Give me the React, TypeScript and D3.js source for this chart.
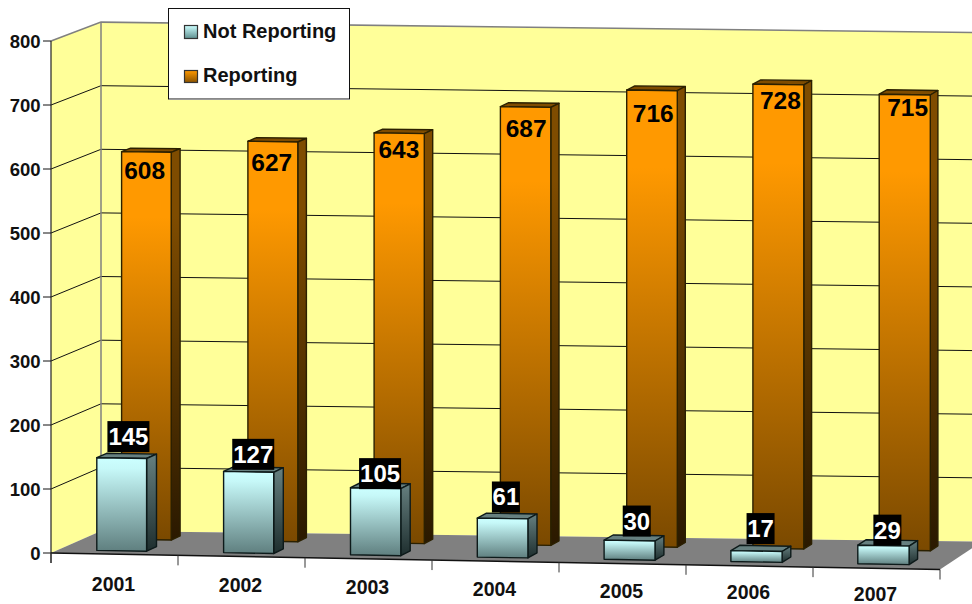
import React from "react";
import * as d3 from "d3";

const years = ["2001", "2002", "2003", "2004", "2005", "2006", "2007"];
const notReporting = [145, 127, 105, 61, 30, 17, 29];
const reporting = [608, 627, 643, 687, 716, 728, 715];
const yTicks = [0, 100, 200, 300, 400, 500, 600, 700, 800];

// layout-only label adjustments, as placed by hand in the reference
const reportingLabelDy = [-2, 1, -3, 2, 5, -2, -5];
const blackBoxDx = [2, 0, 0, -1, 3, 0, 0];
const blackBoxDy = [-4, 0, 3, -4, -2, -5, 2];

const uX = d3.scaleLinear().domain([0, 7]).range([51, 940]);
const uY = d3.scaleLinear().domain([0, 7]).range([553, 569.5]);
const depthDx = d3.scaleLinear().domain([0, 7]).range([50, 42]);
const depthDy = d3.scaleLinear().domain([0, 7]).range([22, 28]);
const hFront = d3.scaleLinear().domain([0, 800]).range([0, 512]);
const font = "'Liberation Sans', Arial, sans-serif";

function P(u: number, d: number, v: number): [number, number] {
  const x = uX(u) + depthDx(u) * d;
  const y = uY(u) - depthDy(u) * d - hFront(v) * (1 - 0.006 * d);
  return [x, y];
}
const pts = (a: [number, number][]) => a.map((p) => `${p[0].toFixed(1)},${p[1].toFixed(1)}`).join(" ");

function Bar({ i, v, d0, d1, front, side, top, line }: any) {
  const u0 = i + 0.302;
  const u1 = i + 0.695 + 0.002 * i;
  return (
    <g stroke={line} strokeWidth={1.4} strokeLinejoin="round">
      <polygon points={pts([P(u0, d0, v), P(u1, d0, v), P(u1, d1, v), P(u0, d1, v)])} fill={top} />
      <polygon points={pts([P(u1, d0, 0), P(u1, d0, v), P(u1, d1, v), P(u1, d1, 0)])} fill={`url(#${side})`} />
      <polygon points={pts([P(u0, d0, 0), P(u1, d0, 0), P(u1, d0, v), P(u0, d0, v)])} fill={`url(#${front})`} />
    </g>
  );
}

export default function App() {
  const wallYellow = "#FFFF99";
  return (
    <svg width={972} height={604} viewBox="0 0 972 604" style={{ position: "absolute", left: 0, top: 0, display: "block", background: "#fff" }}>
      <defs>
        <linearGradient id="rf" x1="0" y1="0" x2="0" y2="1">
          <stop offset="0" stopColor="#FF9900" />
          <stop offset="0.17" stopColor="#FF9900" />
          <stop offset="1" stopColor="#7A4900" />
        </linearGradient>
        <linearGradient id="rs" x1="0" y1="0" x2="0" y2="1">
          <stop offset="0" stopColor="#7F4C00" />
          <stop offset="0.17" stopColor="#7F4C00" />
          <stop offset="1" stopColor="#2A1900" />
        </linearGradient>
        <linearGradient id="nf" x1="0" y1="0" x2="0" y2="1">
          <stop offset="0" stopColor="#CCFFFF" />
          <stop offset="0.12" stopColor="#C6F8F8" />
          <stop offset="1" stopColor="#5F7F7F" />
        </linearGradient>
        <linearGradient id="ns" x1="0" y1="0" x2="0" y2="1">
          <stop offset="0" stopColor="#668080" />
          <stop offset="1" stopColor="#1E2E2E" />
        </linearGradient>
        <linearGradient id="ls1" x1="0" y1="0" x2="0" y2="1">
          <stop offset="0" stopColor="#CCFFFF" />
          <stop offset="1" stopColor="#5F8F8F" />
        </linearGradient>
        <linearGradient id="ls2" x1="0" y1="0" x2="0" y2="1">
          <stop offset="0" stopColor="#FF9900" />
          <stop offset="1" stopColor="#8A5300" />
        </linearGradient>
      </defs>

      {/* walls and floor */}
      <polygon points={pts([P(0, 1, 0), P(0, 1, 800), P(7, 1, 800), P(7, 1, 0)])} fill={wallYellow} />
      <polygon points={pts([P(0, 0, 0), P(0, 0, 800), P(0, 1, 800), P(0, 1, 0)])} fill={wallYellow} />
      <polygon points={pts([P(0, 0, 0), P(7, 0, 0), P(7, 1, 0), P(0, 1, 0)])} fill="#808080" />

      {/* gridlines */}
      {yTicks.slice(1).map((t) => (
        <polyline key={t} points={pts([P(0, 0, t), P(0, 1, t), P(7, 1, t)])} fill="none" stroke={t === 800 ? "#808080" : "#111"} strokeWidth={t === 800 ? 1.6 : 1} />
      ))}
      <line x1={P(0, 1, 0)[0]} y1={P(0, 1, 0)[1]} x2={P(0, 1, 800)[0]} y2={P(0, 1, 800)[1]} stroke="#808080" strokeWidth={1.5} />

      {/* bars */}
      {reporting.map((v, i) => (
        <Bar key={i} i={i} v={v} d0={0.65} d1={0.83} front="rf" side="rs" top="#7F4C00" line="#2b2000" />
      ))}
      {notReporting.map((v, i) => (
        <Bar key={i} i={i} v={v} d0={0.15} d1={0.35} front="nf" side="ns" top="#668080" line="#0d1a1a" />
      ))}

      {/* axes */}
      <line x1={51} y1={P(0, 0, 800)[1]} x2={51} y2={P(0, 0, 0)[1] + 10} stroke="#222" strokeWidth={1.2} />
      <line x1={P(0, 0, 0)[0]} y1={P(0, 0, 0)[1]} x2={P(7, 0, 0)[0]} y2={P(7, 0, 0)[1]} stroke="#111" strokeWidth={1.4} />
      {yTicks.map((t) => (
        <line key={t} x1={43} x2={51} y1={P(0, 0, t)[1]} y2={P(0, 0, t)[1]} stroke="#111" strokeWidth={1} />
      ))}
      {d3.range(0, 8).map((u) => (
        <line key={u} x1={P(u, 0, 0)[0]} x2={P(u, 0, 0)[0]} y1={P(u, 0, 0)[1]} y2={P(u, 0, 0)[1] + 10} stroke="#333" strokeWidth={1} />
      ))}
      {yTicks.map((t) => (
        <text key={t} x={40.5} y={P(0, 0, t)[1] + 6.5} textAnchor="end" fontFamily={font} fontWeight="bold" fontSize={18.5} fill="#111">{t}</text>
      ))}
      {years.map((y, i) => (
        <text key={y} x={P(i + 0.5, 0, 0)[0] - 1 + 0 * i} y={P(i + 0.5, 0, 0)[1] + 36.5 - 0.6 * i} textAnchor="middle" fontFamily={font} fontWeight="bold" fontSize={19.5} fill="#111">{y}</text>
      ))}

      {/* data labels */}
      {reporting.map((v, i) => {
        const [x, y] = P(i + 0.5, 0.65, v);
        return (
          <text key={i} x={x - 2 + 0.9 * i} y={y + 29 - 0.5 * i + reportingLabelDy[i]} textAnchor="middle" fontFamily={font} fontWeight="bold" fontSize={24.5} fill="#000">{v}</text>
        );
      })}
      {notReporting.map((v, i) => {
        const [x, y] = P(i + 0.5, 0.15, v);
        const w = String(v).length === 3 ? 42 : 28;
        const cx = x + 4.5 + blackBoxDx[i];
        const bottom = y - 2 + blackBoxDy[i];
        return (
          <g key={i}>
            <rect x={cx - w / 2} y={bottom - 31} width={w} height={31} fill="#000" />
            <text x={cx} y={bottom - 7} textAnchor="middle" fontFamily={font} fontWeight="bold" fontSize={24} fill="#fff">{v}</text>
          </g>
        );
      })}

      {/* legend */}
      <rect x={168.5} y={8.5} width={181} height={90.5} fill="#fff" stroke="#111" strokeWidth={1} />
      <line x1={169} y1={99.5} x2={350} y2={99.5} stroke="#999" strokeWidth={1} />
      <rect x={184.5} y={25.5} width={13} height={13} fill="url(#ls1)" stroke="#333" strokeWidth={1.2} />
      <rect x={184.5} y={70.5} width={13} height={12} fill="url(#ls2)" stroke="#333" strokeWidth={1.2} />
      <text x={203} y={38} fontFamily={font} fontWeight="bold" fontSize={20} fill="#111">Not Reporting</text>
      <text x={203} y={82} fontFamily={font} fontWeight="bold" fontSize={20} fill="#111">Reporting</text>
    </svg>
  );
}
